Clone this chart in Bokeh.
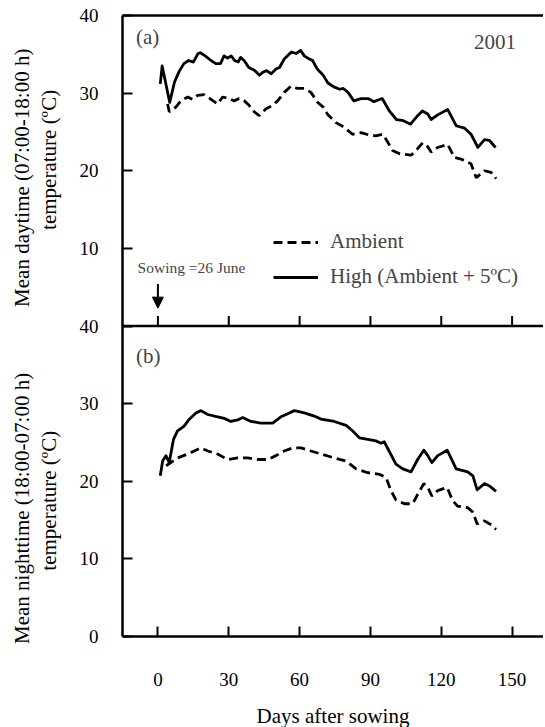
from bokeh.plotting import figure
from bokeh.layouts import row
from bokeh.models import (Range1d, FixedTicker, LinearAxis, Legend, LegendItem,
                          Label, Arrow, NormalHead, Span)
from bokeh.core.properties import value
from bokeh.embed import file_html
from bokeh.resources import INLINE

# ---------------- data ----------------
x_ticks = [0, 30, 60, 90, 120, 150]
y_ticks_day = [10, 20, 30, 40]
y_ticks_night = [0, 10, 20, 30, 40]
y_tick_labels_day = ["10", "20", "30", "40"]
y_tick_labels_night = ["0", "10", "20", "30", "40"]

day_high_x = [1, 1.8, 5, 7, 9, 11, 13, 15, 17, 18, 20, 22.5, 24.5, 26.5, 28, 29.5, 31,
              32.5, 34, 35, 36.5, 38.5, 41, 43, 44.5, 46, 48, 50, 51.5, 53.5, 56.5, 58.5,
              60.5, 62, 63.5, 65.5, 67.5, 70, 72, 74.5, 77, 78.5, 80.5, 83, 86, 89, 91.5,
              95, 98, 101, 103.5, 107, 110, 112, 114.3, 115.7, 118.5, 122.7, 126.3, 129.8,
              132.6, 135.5, 138.3, 140.4, 143]
day_high_t = [31.2, 33.5, 28.8, 31.4, 32.8, 33.8, 34.2, 34.0, 35.1, 35.2, 34.8, 34.2, 33.8,
              33.8, 34.8, 34.5, 34.8, 34.2, 34.0, 34.6, 34.2, 33.3, 32.9, 32.3, 32.7, 32.9,
              32.5, 33.1, 33.3, 34.4, 35.3, 35.1, 35.5, 34.8, 34.5, 34.2, 33.1, 32.3, 31.3,
              30.8, 30.5, 30.6, 30.1, 29.0, 29.3, 29.3, 28.9, 29.3, 27.7, 26.6, 26.5, 26.0,
              27.1, 27.7, 27.3, 26.6, 27.2, 27.9, 25.8, 25.5, 24.7, 23.0, 24.0, 23.9, 23.0]

day_amb_x = [4.1, 4.8, 7.6, 9.7, 12.6, 14.7, 16.8, 19.6, 22.5, 25.3, 27.4, 30.2, 32.3, 34.4,
             36.6, 38.7, 40.8, 42.9, 45.8, 48.6, 50.7, 53.5, 56.4, 59.2, 62, 64.8, 67.7, 70,
             72, 75.4, 78.9, 82.4, 86, 89.5, 92.3, 95.2, 97.3, 99.4, 102.3, 107.2, 109.3,
             112.1, 114.3, 115.7, 118.5, 122.7, 125.6, 128.4, 132.6, 134.8, 138.3, 141.1,
             143.2]
day_amb_t = [28.6, 27.6, 28.2, 29.0, 29.5, 29.2, 29.7, 29.8, 29.2, 28.6, 29.5, 29.3, 29.0,
             29.3, 29.0, 28.4, 27.6, 27.1, 28.0, 28.4, 29.0, 30.1, 30.9, 30.6, 30.6, 30.1,
             28.8, 28.2, 27.2, 26.2, 25.6, 24.7, 24.9, 24.6, 24.5, 24.7, 23.7, 22.6, 22.2,
             22.0, 22.6, 23.6, 23.1, 22.4, 23.0, 23.4, 21.7, 21.5, 20.9, 19.1, 20.0, 19.8,
             19.0]

night_high_x = [1, 2, 3.4, 4.8, 6.6, 8.3, 11.1, 13.3, 16.1, 18.2, 21.1, 25.3, 28.1, 30.9,
                33.8, 35.9, 39.4, 43.6, 48.6, 52.1, 55, 57.8, 62, 66.2, 69.1, 74.7, 79.7,
                82.4, 85.3, 88.9, 92.3, 94.5, 95.8, 97.9, 100.8, 103.7, 107.2, 110, 112.6,
                114.3, 116, 118.5, 122.5, 124.1, 126.3, 131.2, 133.4, 135.2, 138.3, 140.4,
                143.2]
night_high_t = [20.7, 22.6, 23.3, 22.4, 25.4, 26.5, 27.1, 28.0, 28.8, 29.1, 28.6, 28.3, 28.1,
                27.7, 27.9, 28.2, 27.7, 27.5, 27.5, 28.3, 28.7, 29.1, 28.8, 28.4, 28.0, 27.7,
                27.2, 26.5, 25.6, 25.4, 25.2, 24.9, 25.1, 23.9, 22.2, 21.6, 21.2, 22.8, 24.0,
                23.3, 22.4, 23.3, 24.0, 23.0, 21.6, 21.2, 20.7, 18.9, 19.7, 19.4, 18.7]

night_amb_x = [3.5, 8.3, 12.6, 15.4, 18.2, 21.1, 25.3, 29.5, 33.8, 38, 42.2, 46.5, 50, 53.5,
               57.1, 60.6, 64.8, 69.1, 74.7, 79.7, 83.9, 88.9, 93.8, 96.6, 98.7, 100.8,
               104.4, 107.9, 110, 112.6, 114.3, 116, 118.5, 122.5, 124.8, 126.9, 131.2,
               133.4, 135.2, 138.3, 141.1, 143.2]
night_amb_t = [22.0, 23.0, 23.5, 23.9, 24.3, 23.9, 23.5, 22.8, 23.0, 23.0, 22.8, 22.8, 23.3,
               23.9, 24.3, 24.3, 23.9, 23.5, 23.0, 22.6, 21.6, 21.1, 20.9, 20.5, 18.8, 17.6,
               17.1, 17.1, 18.3, 19.7, 19.2, 18.1, 18.8, 19.2, 17.5, 16.8, 16.6, 16.0, 14.5,
               14.9, 14.4, 13.8]

# y-axis titles: text, horizontal position (px in title strip), vertical position (panel units)
title_day_text = ["Mean daytime (07:00-18:00 h)", "temperature (ºC)"]
title_day_x = [21, 48]
title_day_y = [19.1, 21.4]
title_night_text = ["Mean nighttime (18:00-07:00 h)", "temperature (ºC)"]
title_night_x = [21, 48]
title_night_y = [16.5, 17.5]

# annotation positions (x in days, y in each panel's temperature units)
label_a = (-9.3, 37.2)
label_year = (133.9, 36.6)
label_b = (-9.3, 36.1)
sow_text = (-8.6, 7.6)
sow_arrow = (0, 5.4, 2.3)

FONT = "Liberation Serif"
X_RANGE = (-15, 163.3)
TOP = 15
STRIP_W = 65

# ---------------- main plot ----------------
# Upper half of the frame = daytime panel (default range, 0..40 on the top half);
# lower half = nighttime panel (extra range "night", 0..40 on the bottom half).
p = figure(frame_width=421, frame_height=621,
           x_range=Range1d(*X_RANGE), y_range=Range1d(-40, 40),
           output_backend="svg", toolbar_location=None,
           min_border_left=122 - STRIP_W, min_border_right=0, min_border_top=TOP,
           min_border_bottom=0)
p.extra_y_ranges = {"night": Range1d(0, 80)}
p.xgrid.visible = False
p.ygrid.visible = False
p.outline_line_color = None
p.background_fill_color = "white"
p.border_fill_color = "white"

overrides = {}
ticks = []
for t, lab in zip(y_ticks_night, y_tick_labels_night):
    ticks.append(t - 40)
    overrides[t - 40] = lab
for t, lab in zip(y_ticks_day, y_tick_labels_day):
    ticks.append(t)
    overrides[t] = lab
ya = p.yaxis[0]
ya.ticker = FixedTicker(ticks=ticks)
ya.major_label_overrides = overrides
ya.major_label_text_font = FONT
ya.major_label_text_font_size = "19px"
ya.major_label_standoff = 24
ya.major_tick_in = 10
ya.major_tick_out = 0
ya.minor_tick_in = 0
ya.minor_tick_out = 0
ya.axis_line_width = 2.5
ya.major_tick_line_width = 2
ya.major_label_text_color = "black"

xb = p.xaxis[0]
xb.ticker = FixedTicker(ticks=x_ticks)
xb.major_tick_in = 10
xb.major_tick_out = 0
xb.minor_tick_in = 0
xb.minor_tick_out = 0
xb.major_label_text_font = FONT
xb.major_label_text_font_size = "19px"
xb.major_label_standoff = 36
xb.axis_label = "Days after sowing"
xb.axis_label_text_font = FONT
xb.axis_label_text_font_size = "21px"
xb.axis_label_text_font_style = "normal"
xb.axis_label_text_line_height = 1.0
xb.axis_label_standoff = 15
xb.axis_line_width = 2.5
xb.major_tick_line_width = 2
xb.major_label_text_color = "black"
xb.axis_label_text_color = "black"

top_ax = LinearAxis(ticker=FixedTicker(ticks=[]), major_tick_in=0, major_tick_out=0,
                    minor_tick_in=0, minor_tick_out=0, major_label_text_font_size="0px",
                    major_label_standoff=0, axis_line_width=2.5)
p.add_layout(top_ax, "above")

# divider between the two panels with its inward (upward) x ticks
p.add_layout(Span(location=0, dimension="width", line_color="black", line_width=2.5))
p.ray(x=x_ticks, y=[0] * len(x_ticks), length=10, length_units="screen",
      angle=90, angle_units="deg", line_color="black", line_width=2)

# ---------------- panel (a) ----------------
r_amb = p.line(day_amb_x, day_amb_t, line_color="black", line_width=2.8, line_dash="9 5")
r_high = p.line(day_high_x, day_high_t, line_color="black", line_width=2.8, line_join="round")

leg = Legend(items=[LegendItem(label="Ambient", renderers=[r_amb]),
                    LegendItem(label="High (Ambient + 5ºC)", renderers=[r_high])],
             location=(151, 347), orientation="vertical",
             label_text_font=FONT, label_text_font_size="21px",
             glyph_width=45, glyph_height=24, label_height=24, label_standoff=12,
             spacing=10, padding=0, margin=0,
             border_line_color=None, background_fill_alpha=0)
p.add_layout(leg)

p.add_layout(Label(x=label_a[0], y=label_a[1], text="(a)", text_font=FONT,
                   text_font_size="21px", text_baseline="middle", text_align="left"))
p.add_layout(Label(x=label_year[0], y=label_year[1], text="2001", text_font=FONT,
                   text_font_size="21px", text_baseline="middle", text_align="left"))
p.add_layout(Label(x=sow_text[0], y=sow_text[1], text="Sowing =26 June", text_font=FONT,
                   text_font_size="15.5px", text_baseline="middle", text_align="left"))
p.add_layout(Arrow(x_start=sow_arrow[0], y_start=sow_arrow[1], x_end=sow_arrow[0],
                   y_end=sow_arrow[2], line_width=2, line_color="black",
                   end=NormalHead(size=11, fill_color="black", line_color="black")))

# ---------------- panel (b) ----------------
p.line(night_amb_x, night_amb_t, y_range_name="night", line_color="black",
       line_width=2.8, line_dash="9 5")
p.line(night_high_x, night_high_t, y_range_name="night", line_color="black",
       line_width=2.8, line_join="round")
p.add_layout(Label(x=label_b[0], y=label_b[1], y_range_name="night", text="(b)",
                   text_font=FONT, text_font_size="21px", text_baseline="middle",
                   text_align="left"))

# ---------------- title strip (rotated y-axis titles) ----------------
# same vertical scale as the main frame (621 px for 80 units), but taller so the
# lower title is not clipped
STRIP_H = 700
units = 80 * STRIP_H / 621
t = figure(frame_width=STRIP_W, frame_height=STRIP_H,
           x_range=Range1d(0, STRIP_W), y_range=Range1d(40 - units, 40),
           output_backend="svg", toolbar_location=None,
           x_axis_location=None, y_axis_location=None,
           min_border_left=0, min_border_right=0, min_border_top=TOP, min_border_bottom=0)
t.extra_y_ranges = {"night": Range1d(80 - units, 80)}
t.xgrid.visible = False
t.ygrid.visible = False
t.outline_line_color = None
t.background_fill_color = "white"
t.border_fill_color = "white"
t.text(x=title_day_x, y=title_day_y, text=title_day_text, angle=90, angle_units="deg",
       text_font=value(FONT), text_font_size=value("21px"), text_align="center",
       text_baseline="middle", text_color="black")
t.text(x=title_night_x, y=title_night_y, text=title_night_text, y_range_name="night",
       angle=90, angle_units="deg", text_font=value(FONT), text_font_size=value("21px"),
       text_align="center", text_baseline="middle", text_color="black")

layout = row(t, p, spacing=0)
open("out.html", "w").write(file_html(layout, INLINE))
